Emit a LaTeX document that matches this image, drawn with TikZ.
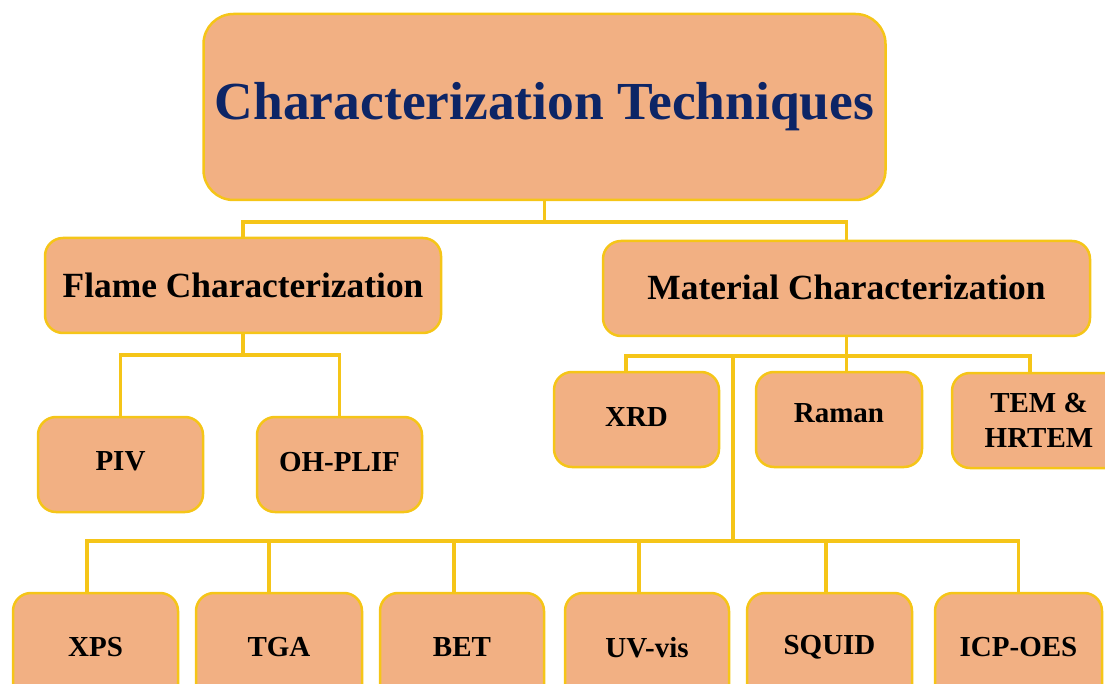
\documentclass[tikz,border=0pt]{standalone}
\usepackage{fontspec}
\setmainfont{Liberation Serif}

\definecolor{boxfill}{HTML}{F2B083}
\definecolor{boxline}{HTML}{F5C518}
\definecolor{titleblue}{HTML}{0D2566}

\tikzset{
  box/.style={draw=boxline, line width=2.5pt, fill=boxfill, rounded corners=18pt,
    inner sep=0pt, align=center, font=\bfseries\fontsize{29}{35}\selectfont},
  bigbox/.style={box, font=\bfseries\fontsize{35.4}{40}\selectfont},
  link/.style={draw=boxline, line width=3.5pt},
}

\begin{document}
\begin{tikzpicture}[x=1pt,y=-1pt]
        \clip (0,0) rectangle (1105,684);

        \node[box, rounded corners=30pt, minimum width=682pt, minimum height=186pt,
              text=titleblue, font=\bfseries\fontsize{53.5}{60}\selectfont]
              (title) at (544.5,107) {Characterization Techniques};

        \node[bigbox, minimum width=396pt, minimum height=95pt] (flame) at (243,285.5) {Flame Characterization};
        \node[bigbox, minimum width=487pt, minimum height=95pt, text depth=2pt] (mat) at (846.5,288.5) {Material Characterization};

        % Flame
        \node[box, minimum width=165pt, minimum height=95pt, text depth=6pt] (piv) at (120.5,464.5) {PIV};
        \node[box, minimum width=165pt, minimum height=95pt, text depth=6pt] (ohplif) at (339.5,464.5) {OH-PLIF};

        % Material
        \node[box, minimum width=165pt, minimum height=95pt, text depth=5pt] (xrd) at (636.5,419.5) {XRD};
        \node[box, minimum width=166pt, minimum height=95pt, text depth=13pt] (raman) at (839,419.5) {Raman};
        \node[box, minimum width=174pt, minimum height=95pt] (tem) at (1039,420.5) {TEM \&\\HRTEM};

        \node[box, minimum width=165pt, minimum height=109pt] (xps) at (95.5,647.5) {XPS};
        \node[box, minimum width=166pt, minimum height=109pt] (tga) at (279,647.5) {TGA};
        \node[box, minimum width=164pt, minimum height=109pt] (bet) at (462,647.5) {BET};
        \node[box, minimum width=164pt, minimum height=109pt] (uvvis) at (647,647.5) {UV-vis};
        \node[box, minimum width=165pt, minimum height=109pt] (squid) at (829.5,647.5) {SQUID};
        \node[box, minimum width=167pt, minimum height=109pt] (icp) at (1018.5,647.5) {ICP-OES};

        % Узлы линий
        \coordinate (tj) at (544.5,222);
        \coordinate (fj) at (243,355);
        \coordinate (mj) at (846.5,356);
        \coordinate (mk) at (733,356);
        \coordinate (bj) at (733,541);

        % Линии
        \draw[link] (title.south) -- (tj);
        \draw[link] (tj) -| (flame.north);
        \draw[link] (tj) -| (mat.north);

        \draw[link] (flame.south) -- (fj);
        \draw[link] (fj) -| (piv.north);
        \draw[link] (fj) -| (ohplif.north);

        \draw[link] (mat.south) -- (mj);
        \draw[link] (mj) -| ([xshift=-10.5pt]xrd.north);
        \draw[link] (mj) -- (mj |- raman.north);
        \draw[link] (mj) -| ([xshift=-9pt]tem.north);

        \draw[link] (mk) -- (bj);
        \draw[link] (bj) -| ([xshift=-8.5pt]xps.north);
        \draw[link] (bj) -| ([xshift=-10pt]tga.north);
        \draw[link] (bj) -| ([xshift=-8pt]bet.north);
        \draw[link] (bj) -| ([xshift=-8pt]uvvis.north);
        \draw[link] (bj) -| ([xshift=-3.5pt]squid.north);
        \draw[link] (bj) -| (icp.north);
    \end{tikzpicture}
\end{document}
